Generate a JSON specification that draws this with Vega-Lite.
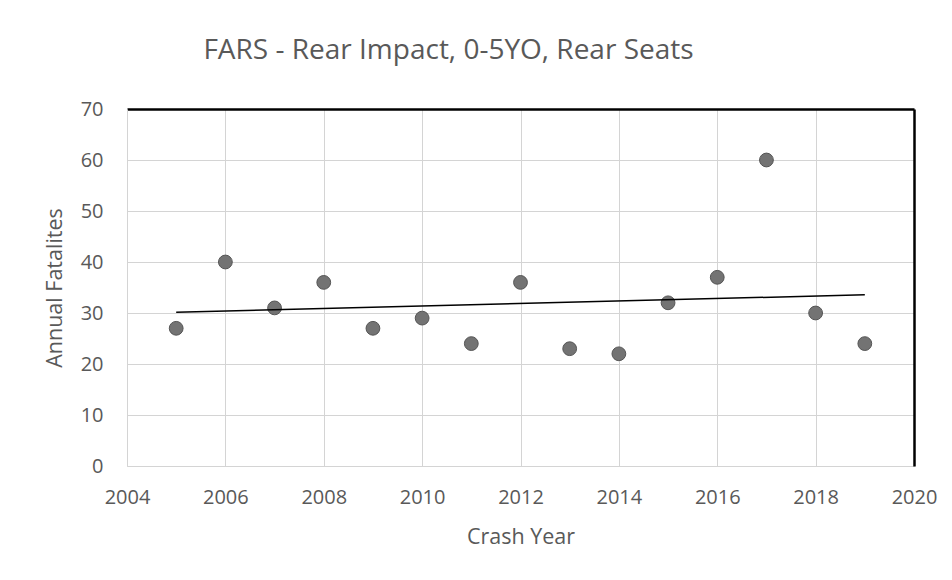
{
  "$schema": "https://vega.github.io/schema/vega-lite/v6.json",
  "width": 787,
  "height": 357,
  "autosize": {"type": "none"},
  "padding": {"left": 127, "top": 109, "right": 38, "bottom": 114},
  "background": "white",
  "title": {
    "text": "FARS - Rear Impact, 0-5YO, Rear Seats",
    "font": "Open Sans",
    "fontSize": 28,
    "fontWeight": "normal",
    "color": "#595959",
    "anchor": "middle",
    "dx": -72,
    "offset": 34
  },
  "data": {
    "values": [
      {"year": 2005, "fatalities": 27},
      {"year": 2006, "fatalities": 40},
      {"year": 2007, "fatalities": 31},
      {"year": 2008, "fatalities": 36},
      {"year": 2009, "fatalities": 27},
      {"year": 2010, "fatalities": 29},
      {"year": 2011, "fatalities": 24},
      {"year": 2012, "fatalities": 36},
      {"year": 2013, "fatalities": 23},
      {"year": 2014, "fatalities": 22},
      {"year": 2015, "fatalities": 32},
      {"year": 2016, "fatalities": 37},
      {"year": 2017, "fatalities": 60},
      {"year": 2018, "fatalities": 30},
      {"year": 2019, "fatalities": 24}
    ]
  },
  "layer": [
    {
      "mark": {"type": "point", "filled": true, "shape": "circle", "size": 190, "color": "#737373", "stroke": "#555555", "strokeWidth": 1, "opacity": 1},
      "encoding": {
        "x": {
          "field": "year", "type": "quantitative",
          "scale": {"domain": [2004, 2020], "nice": false, "zero": false},
          "axis": {
            "title": "Crash Year",
            "values": [2004, 2006, 2008, 2010, 2012, 2014, 2016, 2018, 2020],
            "format": "d",
            "grid": true, "gridColor": "#d4d4d4", "gridWidth": 1,
            "domain": true, "domainColor": "#d4d4d4",
            "ticks": false,
            "labelFlush": false,
            "labelFont": "Open Sans", "labelFontSize": 20, "labelColor": "#595959",
            "labelPadding": 21,
            "titleFont": "Open Sans", "titleFontSize": 21.5, "titleFontWeight": "normal", "titleColor": "#595959",
            "titlePadding": 19
          }
        },
        "y": {
          "field": "fatalities", "type": "quantitative",
          "scale": {"domain": [0, 70], "nice": false},
          "axis": {
            "title": "Annual Fatalites",
            "values": [0, 10, 20, 30, 40, 50, 60, 70],
            "grid": true, "gridColor": "#d4d4d4", "gridWidth": 1,
            "domain": true, "domainColor": "#d4d4d4",
            "ticks": false,
            "labelFlush": false,
            "labelFont": "Open Sans", "labelFontSize": 20, "labelColor": "#595959",
            "labelPadding": 24,
            "titleFont": "Open Sans", "titleFontSize": 21.5, "titleFontWeight": "normal", "titleColor": "#595959",
            "titlePadding": 14
          }
        }
      }
    },
    {
      "transform": [{"regression": "fatalities", "on": "year"}],
      "mark": {"type": "line", "color": "#000000", "strokeWidth": 1.5},
      "encoding": {
        "x": {"field": "year", "type": "quantitative", "axis": null},
        "y": {"field": "fatalities", "type": "quantitative", "axis": null}
      }
    },
    {
      "mark": {"type": "point", "opacity": 0},
      "encoding": {
        "x": {"field": "year", "type": "quantitative", "axis": {"orient": "top", "labels": false, "ticks": false, "grid": false, "title": null, "domainColor": "#000000", "domainWidth": 2.5}},
        "y": {"field": "fatalities", "type": "quantitative", "axis": {"orient": "right", "labels": false, "ticks": false, "grid": false, "title": null, "domainColor": "#000000", "domainWidth": 2.5}}
      }
    }
  ],
  "resolve": {"axis": {"x": "independent", "y": "independent"}},
  "config": {"view": {"stroke": null}}
}
